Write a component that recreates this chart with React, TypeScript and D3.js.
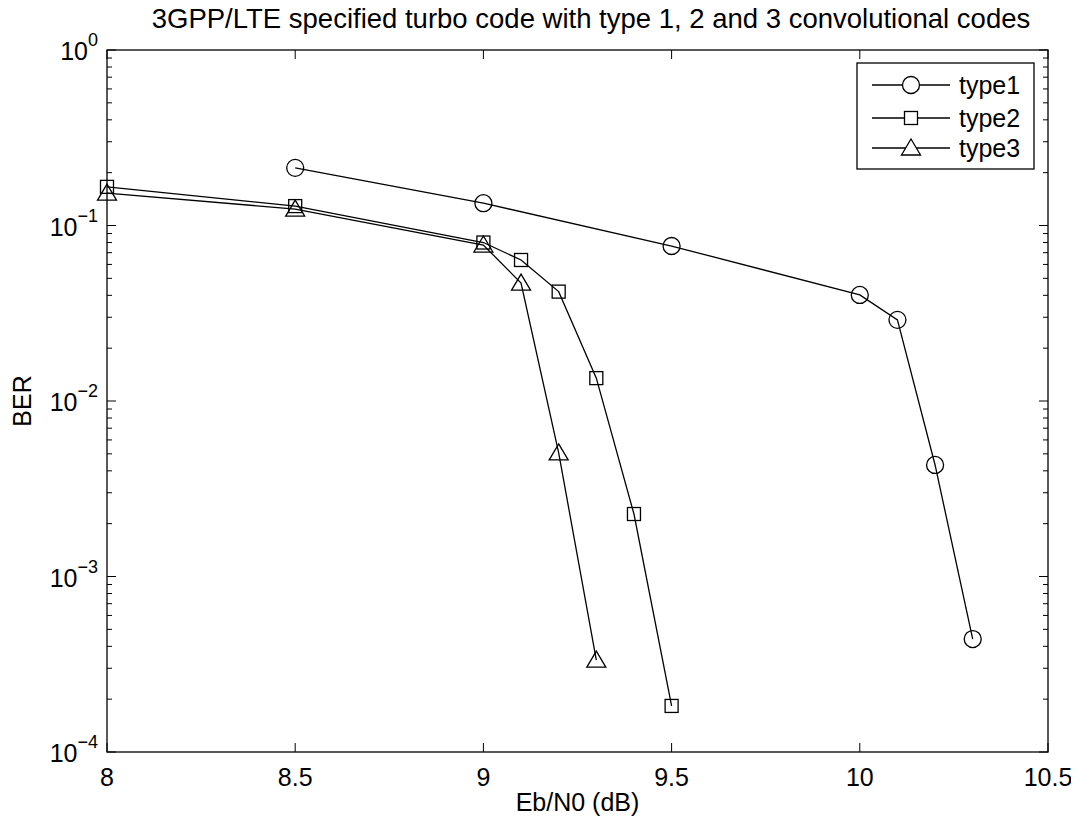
import { useEffect, useRef } from 'react';
import * as d3 from 'd3';

// Eb/N0 (dB) values per curve
const ebn0Type1 = [8.5, 9, 9.5, 10, 10.1, 10.2, 10.3];
const berType1 = [0.213, 0.134, 0.0764, 0.0402, 0.029, 0.00432, 0.00044];

const ebn0Type2 = [8, 8.5, 9, 9.1, 9.2, 9.3, 9.4, 9.5];
const berType2 = [0.166, 0.129, 0.08, 0.0636, 0.042, 0.0135, 0.00227, 0.000183];

const ebn0Type3 = [8, 8.5, 9, 9.1, 9.2, 9.3];
const berType3 = [0.153, 0.124, 0.0774, 0.047, 0.00506, 0.000334];

const seriesNames = ['type1', 'type2', 'type3'];
const xTicks = [8, 8.5, 9, 9.5, 10, 10.5];
const yDecades = [0, -1, -2, -3, -4];

type Marker = 'circle' | 'square' | 'triangle';

export default function App() {
  const svgRef = useRef<SVGSVGElement>(null);

  useEffect(() => {
    if (!svgRef.current) return;
    const svg = d3.select(svgRef.current);
    svg.selectAll('*').remove();

    const W = 1079;
    const H = 824;
    const margin = { top: 50, right: 31, bottom: 72, left: 107 };
    const left = margin.left;
    const right = W - margin.right;
    const top = margin.top;
    const bottom = H - margin.bottom;
    const font = '"Liberation Sans", Arial, Helvetica, sans-serif';

    const x = d3.scaleLinear().domain([8, 10.5]).range([left, right]);
    const y = d3.scaleLog().domain([1e-4, 1]).range([bottom, top]);

    svg.attr('width', W).attr('height', H).style('background', '#fff');

    // Ticks (inward, MATLAB style)
    const tickG = svg.append('g').attr('stroke', '#000').attr('stroke-width', 1);
    xTicks.forEach((t) => {
      const px = x(t);
      tickG.append('line').attr('x1', px).attr('x2', px).attr('y1', bottom).attr('y2', bottom - 9);
      tickG.append('line').attr('x1', px).attr('x2', px).attr('y1', top).attr('y2', top + 9);
    });
    yDecades.forEach((e) => {
      const py = y(Math.pow(10, e));
      tickG.append('line').attr('x1', left).attr('x2', left + 9).attr('y1', py).attr('y2', py);
      tickG.append('line').attr('x1', right).attr('x2', right - 9).attr('y1', py).attr('y2', py);
      if (e > -4) {
        for (let m = 2; m <= 9; m++) {
          const my = y(m * Math.pow(10, e - 1));
          tickG.append('line').attr('x1', left).attr('x2', left + 5).attr('y1', my).attr('y2', my);
          tickG.append('line').attr('x1', right).attr('x2', right - 5).attr('y1', my).attr('y2', my);
        }
      }
    });

    // Axes box
    svg
      .append('rect')
      .attr('x', left)
      .attr('y', top)
      .attr('width', right - left)
      .attr('height', bottom - top)
      .attr('fill', 'none')
      .attr('stroke', '#000')
      .attr('stroke-width', 1.3);

    // X tick labels
    svg
      .append('g')
      .selectAll('text')
      .data(xTicks)
      .enter()
      .append('text')
      .attr('x', (d) => x(d))
      .attr('y', bottom + 34)
      .attr('text-anchor', 'middle')
      .attr('font-family', font)
      .attr('font-size', 25)
      .text((d) => String(d));

    // Y tick labels 10^e
    const yl = svg
      .append('g')
      .selectAll('text')
      .data(yDecades)
      .enter()
      .append('text')
      .attr('x', left - 9)
      .attr('y', (d) => y(Math.pow(10, d)) + 10)
      .attr('text-anchor', 'end')
      .attr('font-family', font)
      .attr('font-size', 25);
    yl.append('tspan').text('10');
    yl.append('tspan')
      .attr('dy', -14)
      .attr('font-size', 18)
      .text((d) => (d === 0 ? '0' : '\u2212' + String(-d)));

    // Title and axis labels
    svg
      .append('text')
      .attr('x', 591)
      .attr('y', 28)
      .attr('text-anchor', 'middle')
      .attr('font-family', font)
      .attr('font-size', 27.5)
      .text('3GPP/LTE specified turbo code with type 1, 2 and 3 convolutional codes');
    svg
      .append('text')
      .attr('x', (left + right) / 2)
      .attr('y', 811)
      .attr('text-anchor', 'middle')
      .attr('font-family', font)
      .attr('font-size', 25)
      .text('Eb/N0 (dB)');
    svg
      .append('text')
      .attr('transform', `translate(31,${(top + bottom) / 2}) rotate(-90)`)
      .attr('text-anchor', 'middle')
      .attr('font-family', font)
      .attr('font-size', 25)
      .text('BER');

    const drawMarker = (
      g: d3.Selection<SVGGElement, unknown, null, undefined>,
      kind: Marker,
      cx: number,
      cy: number
    ) => {
      if (kind === 'circle') {
        g.append('circle').attr('cx', cx).attr('cy', cy).attr('r', 8.5);
      } else if (kind === 'square') {
        g.append('rect').attr('x', cx - 6.5).attr('y', cy - 6.5).attr('width', 13).attr('height', 13);
      } else {
        g.append('path').attr(
          'd',
          `M${cx},${cy - 9} L${cx + 9.5},${cy + 7} L${cx - 9.5},${cy + 7} Z`
        );
      }
    };

    const series: { xs: number[]; ys: number[]; marker: Marker }[] = [
      { xs: ebn0Type1, ys: berType1, marker: 'circle' },
      { xs: ebn0Type2, ys: berType2, marker: 'square' },
      { xs: ebn0Type3, ys: berType3, marker: 'triangle' },
    ];

    const line = d3
      .line<[number, number]>()
      .x((d) => x(d[0]))
      .y((d) => y(d[1]));

    series.forEach((s) => {
      const pts: [number, number][] = s.xs.map((v, i) => [v, s.ys[i]]);
      const g = svg.append('g');
      g.append('path')
        .attr('d', line(pts) || '')
        .attr('fill', 'none')
        .attr('stroke', '#000')
        .attr('stroke-width', 1.3);
      const mg = g.append('g').attr('fill', 'none').attr('stroke', '#000').attr('stroke-width', 1.3);
      pts.forEach((p) => drawMarker(mg, s.marker, x(p[0]), y(p[1])));
    });

    // Legend
    const lg = svg.append('g');
    lg.append('rect')
      .attr('x', 857)
      .attr('y', 63)
      .attr('width', 177)
      .attr('height', 106)
      .attr('fill', '#fff')
      .attr('stroke', '#000')
      .attr('stroke-width', 1.3);
    const rowY = [85, 118, 148];
    seriesNames.forEach((name, i) => {
      const ry = rowY[i];
      lg.append('line')
        .attr('x1', 872)
        .attr('x2', 950)
        .attr('y1', ry)
        .attr('y2', ry)
        .attr('stroke', '#000')
        .attr('stroke-width', 1.3);
      const mg = lg.append('g').attr('fill', '#fff').attr('stroke', '#000').attr('stroke-width', 1.3);
      drawMarker(mg as any, series[i].marker, 911, ry);
      lg.append('text')
        .attr('x', 959)
        .attr('y', ry + 9)
        .attr('font-family', font)
        .attr('font-size', 25)
        .text(name);
    });
  }, []);

  return (
    <div style={{ width: 1079, height: 824, margin: -8 }}>
      <svg ref={svgRef} style={{ display: 'block' }} />
    </div>
  );
}
